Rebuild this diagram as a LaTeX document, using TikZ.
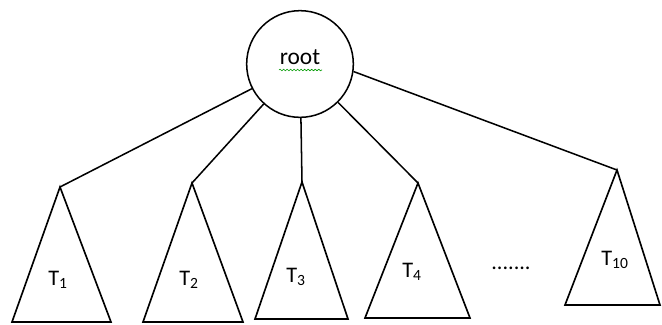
\documentclass[tikz,border=0pt]{standalone}
\usepackage{fontspec}
\setmainfont{Carlito}
\usetikzlibrary{calc,decorations.pathmorphing}
\tikzset{
  rootnode/.style={circle,draw=black,line width=1.3pt,minimum size=3.2cm,
    inner sep=0pt,font=\fontsize{20}{24}\selectfont,text depth=12pt},
  tedge/.style={line width=1.3pt,black},
  tri/.style={draw=black,line width=1.4pt,line join=miter},
  tlabel/.style={font=\fontsize{19}{22}\selectfont,inner sep=0pt},
  spellmark/.style={green!60!black,line width=0.5pt,
    decorate,decoration={snake,amplitude=0.7pt,segment length=3pt}},
}
\begin{document}
\begin{tikzpicture}[x=0.03cm,y=-0.03cm]
  \useasboundingbox (0,0) rectangle (662,324);
  \node[rootnode] (root) at (300,64) {root};
  \draw[spellmark] ($(root.center)+(-21,6)$) -- ++(43,0);
  % subtrees: name / apex / base left, right, y / label position / text
  \foreach \nm/\ax/\ay/\bl/\br/\by/\lx/\ly/\txt in {
      t1/60/187/12/111/322/58/280/{T\textsubscript{1}},
      t2/192/183/143/243/322/189/280/{T\textsubscript{2}},
      t3/302/182/255/348/319/296/277/{T\textsubscript{3}},
      t4/418/183/365/470/318/412/272/{T\textsubscript{4}}}{
    \coordinate (\nm) at (\ax,\ay);
    \draw[tri] (\nm) -- (\bl,\by) -- (\br,\by) -- cycle;
    \node[tlabel] (\nm lbl) at (\lx,\ly) {\txt};
    \draw[tedge] (root) -- (\nm);
  }
  \coordinate (t10) at (617,170);
  \draw[tri] (t10) -- (565,305) -- (660,305) -- cycle;
  \node[tlabel] (t10lbl) at (615,260) {T\textsubscript{10}};
  \draw[tedge] (root.-8) -- (t10);
  \node[tlabel] (dots) at (511,268) {.......};
\end{tikzpicture}
\end{document}
